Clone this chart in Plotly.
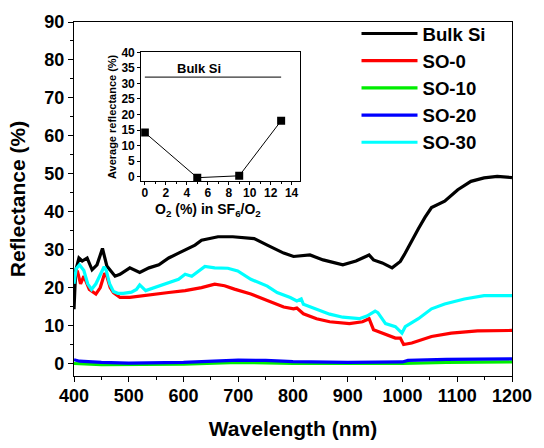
import plotly.graph_objects as go

# ---------------- data ----------------
bulk_wl = [400, 403, 409, 415, 424, 433, 442, 452, 460, 475, 484, 502, 520, 537, 555, 573, 591, 609,
           621, 633, 645, 663, 690, 729, 753, 783, 801, 831, 855, 891, 915, 939, 947, 963, 981, 996,
           1005, 1017, 1029, 1041, 1053, 1077, 1101, 1125, 1149, 1173, 1197, 1200]
bulk_r = [14.3, 24.4, 27.8, 27.0, 27.8, 24.7, 26.0, 30.3, 25.7, 23.0, 23.5, 25.2, 24.0, 25.2, 26.0, 27.8,
          29.1, 30.3, 31.2, 32.5, 32.9, 33.4, 33.4, 32.9, 31.2, 29.1, 28.2, 28.6, 27.3, 26.0, 27.0,
          28.6, 27.3, 26.5, 25.2, 26.9, 29.1, 32.5, 35.5, 38.5, 41.1, 42.8, 45.8, 48.0, 48.9, 49.3,
          48.9, 49.0]

so0_wl = [400, 406, 412, 418, 428, 440, 448, 456, 460, 466, 472, 484, 502, 526, 549, 573, 603, 633,
          657, 675, 693, 723, 753, 783, 801, 807, 819, 843, 867, 903, 927, 939, 947, 963, 987, 996,
          1002, 1017, 1053, 1089, 1137, 1200]
so0_r = [22.5, 24.5, 21.0, 23.0, 19.5, 18.3, 20.0, 23.8, 23.0, 20.0, 18.7, 17.4, 17.4, 17.9, 18.3,
         18.7, 19.2, 20.0, 20.9, 20.5, 19.6, 18.3, 16.6, 14.9, 14.4, 14.6, 13.1, 11.8, 11.0, 10.5,
         11.0, 11.8, 8.9, 8.0, 6.7, 6.7, 5.0, 5.4, 7.1, 8.0, 8.6, 8.7]

so10_wl = [400, 450, 600, 700, 800, 1000, 1080, 1200]
so10_r = [0.0, -0.3, -0.2, 0.3, 0.0, 0.0, 0.3, 0.4]

so20_wl = [400, 410, 450, 500, 600, 650, 700, 750, 800, 900, 1000, 1010, 1080, 1200]
so20_r = [1.0, 0.6, 0.3, 0.1, 0.3, 0.6, 0.9, 0.8, 0.5, 0.3, 0.4, 0.8, 1.1, 1.2]

so30_wl = [400, 404, 410, 418, 425, 432, 440, 447, 455, 459, 465, 472, 480, 490, 505, 514, 520, 531,
           555, 573, 591, 603, 615, 639, 657, 681, 699, 723, 753, 771, 795, 807, 815, 819, 843, 867,
           891, 921, 935, 950, 955, 969, 987, 999, 1005, 1029, 1053, 1077, 1113, 1149, 1200]
so30_r = [21.0, 25.0, 26.0, 24.5, 21.0, 19.5, 21.0, 23.0, 25.5, 24.5, 21.0, 19.0, 18.5, 18.5, 18.8,
          19.5, 20.7, 19.2, 20.4, 21.3, 22.2, 23.5, 23.0, 25.6, 25.2, 25.1, 24.4, 22.2, 20.4, 18.7,
          17.4, 16.5, 17.0, 15.6, 14.3, 13.0, 12.2, 11.8, 12.5, 13.8, 13.4, 10.5, 9.7, 8.0, 9.7,
          11.8, 14.4, 15.7, 17.0, 17.9, 17.9]

inset_o2 = [0, 5, 9, 13]
inset_avg = [14.2, -0.3, 0.3, 18.0]
bulk_avg_x = [0, 13]
bulk_avg_y = [32, 32]

series = [
    ("Bulk Si", bulk_wl, bulk_r, "#000000"),
    ("SO-0", so0_wl, so0_r, "#ff0000"),
    ("SO-10", so10_wl, so10_r, "#00ee00"),
    ("SO-20", so20_wl, so20_r, "#0000ff"),
    ("SO-30", so30_wl, so30_r, "#00ffff"),
]

FONT = "Liberation Sans, Arial, sans-serif"

fig = go.Figure()
for name, x, y, c in series:
    fig.add_trace(go.Scatter(x=x, y=y, mode="lines", name=name,
                             line=dict(color=c, width=3.2), xaxis="x", yaxis="y"))

# inset
fig.add_trace(go.Scatter(x=bulk_avg_x, y=bulk_avg_y, mode="lines", showlegend=False,
                         line=dict(color="#333333", width=1.3), xaxis="x2", yaxis="y2"))
fig.add_trace(go.Scatter(x=inset_o2, y=inset_avg, mode="lines+markers", showlegend=False,
                         line=dict(color="#000000", width=1),
                         marker=dict(symbol="square", size=8, color="#000000"),
                         xaxis="x2", yaxis="y2"))
fig.add_annotation(x=5.2, y=34.8, xref="x2", yref="y2", text="Bulk Si", showarrow=False,
                   font=dict(family=FONT, size=13, color="#000", weight="bold"))
fig.add_annotation(x=0.423, y=-0.225, xref="x2 domain", yref="y2 domain",
                   text="O<sub>2</sub> (%) in SF<sub>6</sub>/O<sub>2</sub>", showarrow=False,
                   xanchor="center", yanchor="middle",
                   font=dict(family=FONT, size=14, color="#000", weight="bold"))

fig.update_layout(
    width=544, height=448,
    margin=dict(l=74, r=26, t=14, b=72),
    paper_bgcolor="white", plot_bgcolor="white",
    font=dict(family=FONT, color="#000"),
    showlegend=True,
    legend=dict(x=0.645, y=1.02, xanchor="left", yanchor="top",
                bgcolor="rgba(0,0,0,0)", borderwidth=0,
                font=dict(family=FONT, size=18.6, color="#000", weight="bold"),
                itemwidth=56),
    xaxis=dict(range=[400, 1200], domain=[0, 1], showgrid=False, zeroline=False,
               showline=True, linecolor="#000", linewidth=1.3, mirror=True,
               ticks="outside", ticklen=5, tickcolor="#000", dtick=100, tick0=400,
               minor=dict(ticks="outside", ticklen=3, dtick=50, tickcolor="#000"),
               tickfont=dict(family=FONT, size=18, weight="bold"),
               ticklabelstandoff=-2,
               title=dict(text="Wavelength (nm)", standoff=16,
                          font=dict(family=FONT, size=21, weight="bold")),
               anchor="y"),
    yaxis=dict(range=[-3.3, 90], domain=[0, 1], showgrid=False, zeroline=False,
               showline=True, linecolor="#000", linewidth=1.3, mirror=True,
               ticks="outside", ticklen=5, tickcolor="#000", dtick=10, tick0=0,
               minor=dict(ticks="outside", ticklen=3, dtick=5, tickcolor="#000"),
               tickfont=dict(family=FONT, size=18, weight="bold"),
               title=dict(text="Reflectance (%)", standoff=12,
                          font=dict(family=FONT, size=21, weight="bold")),
               anchor="x"),
    xaxis2=dict(range=[-0.35, 14.8], domain=[0.1534, 0.516], anchor="y2",
                showgrid=False, zeroline=False, showline=True, linecolor="#000",
                linewidth=1, mirror=True, ticks="outside", ticklen=3, tickcolor="#000",
                dtick=2, tick0=0,
                minor=dict(ticks="outside", ticklen=2, dtick=1, tickcolor="#000"),
                tickfont=dict(family=FONT, size=12, weight="bold"),
                ticklabelstandoff=-3),
    yaxis2=dict(range=[-1.5, 40], domain=[0.5497, 0.9144], anchor="x2",
                showgrid=False, zeroline=False, showline=True, linecolor="#000",
                linewidth=1, mirror=True, ticks="outside", ticklen=3, tickcolor="#000",
                dtick=5, tick0=0,
                tickfont=dict(family=FONT, size=12, weight="bold"),
                title=dict(text="Average reflectance (%)", standoff=2,
                           font=dict(family=FONT, size=11, weight="bold"))),
)

fig.write_html("out.html")
